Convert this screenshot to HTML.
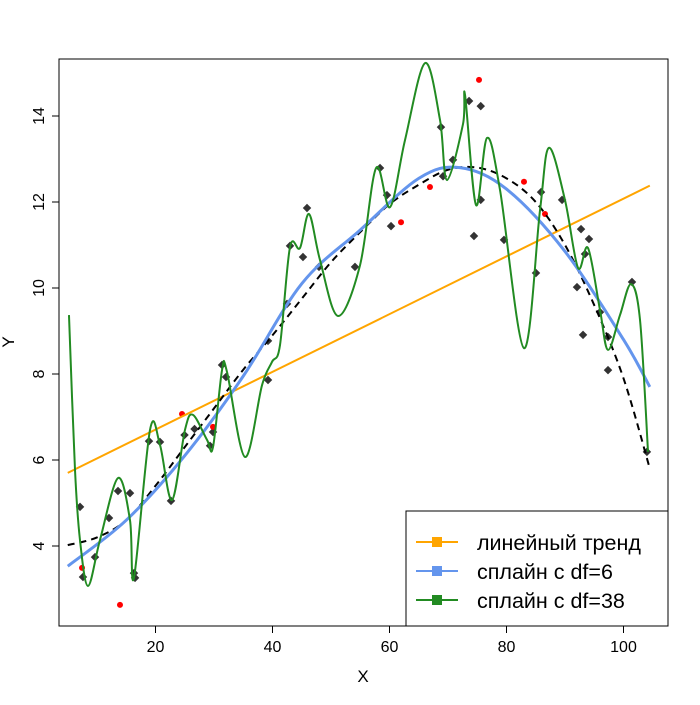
<!DOCTYPE html>
<html><head><meta charset="utf-8"><style>
body{margin:0;background:#fff}
svg text{font-family:"Liberation Sans",sans-serif;fill:#000}
</style></head><body>
<svg id="chart" width="700" height="700" xmlns="http://www.w3.org/2000/svg">
<rect width="700" height="700" fill="#fff"/>
<g id="plot"></g>
<rect x="59" y="59" width="609" height="567" fill="none" stroke="#000"/>
<g id="axes"></g>
<text x="363" y="682" font-size="17" text-anchor="middle">X</text>
<text x="14" y="342" font-size="17" text-anchor="middle" transform="rotate(-90 14 342)">Y</text>
<g>
<rect x="406" y="511" width="262" height="115" fill="#fff" stroke="#000"/>
<g><line x1="416" y1="542" x2="458" y2="542" stroke="orange" stroke-width="2"/><rect x="432" y="537" width="10" height="10" fill="orange"/><text x="477" y="550" font-size="21.5">линейный тренд</text></g>
<g><line x1="416" y1="571" x2="458" y2="571" stroke="cornflowerblue" stroke-width="2"/><rect x="432" y="566" width="10" height="10" fill="cornflowerblue"/><text x="477" y="579" font-size="21.5">сплайн с df=6</text></g>
<g><line x1="416" y1="600" x2="458" y2="600" stroke="forestgreen" stroke-width="2"/><rect x="432" y="595" width="10" height="10" fill="forestgreen"/><text x="477" y="608" font-size="21.5">сплайн с df=38</text></g>
</g>
</svg>
<script>
const xTicks=[20,40,60,80,100];
const yTicks=[4,6,8,10,12,14];
const grayX=[7.1,7.6,9.66,12.05,13.59,15.64,16.32,16.5,18.89,20.77,22.65,24.96,26.67,29.32,29.83,31.37,32.05,39.23,39.23,45.9,42.99,45.21,47.95,42.48,54.1,58.38,59.57,60.26,68.8,70.85,69.15,73.6,75.6,74.44,75.6,79.57,85.04,85.9,89.5,92.74,94.1,93.42,92.05,93.08,95.98,97.35,97.35,101.45,104];
const grayY=[4.91,3.28,3.74,4.65,5.28,5.23,3.37,3.26,6.44,6.42,5.05,6.58,6.72,6.33,6.65,8.21,7.93,8.77,7.86,11.86,10.98,10.72,10.49,9.63,10.49,12.79,12.16,11.44,13.74,12.98,12.6,14.35,14.23,11.21,12.05,11.12,10.35,12.23,12.05,11.37,11.14,10.79,10.02,8.91,9.44,8.86,8.09,10.14,6.19];
const redX=[7.44,13.93,24.53,29.83,61.97,66.92,75.3,82.99,86.58];
const redY=[3.49,2.63,7.07,6.77,11.53,12.35,14.84,12.47,11.72];
const linX=[5,104.5];
const linY=[5.7,12.38];
const df6X=[5,15,25,35,45,55,65,72,80,90,100,104.5];
const df6Y=[3.53,4.6,6.1,7.95,10.1,11.35,12.55,12.8,12.3,10.85,8.8,7.7];
const trueX=[5,10,15,20,25,30,35,40,45,50,55,60,65,70,75,80,85,90,95,100,104.5];
const trueY=[4.02,4.2,4.6,5.4,6.3,7.2,8.1,8.9,9.75,10.6,11.3,11.95,12.4,12.75,12.8,12.55,12.0,11.0,9.6,7.9,5.8];
const df38X=[5.21,6.24,7.09,8.46,10.51,13.59,15.64,16.32,19.06,20.77,22.82,25.04,26.41,28.8,29.83,31.37,32.22,35.3,38.21,39.91,41.28,42.99,44.7,46.24,48.12,51.2,54.96,57.7,60.09,62.65,66.07,68.63,69.83,72.56,72.91,74.79,76.67,78.89,82.99,85.73,87.26,89.99,92.22,93.93,95.98,97.35,99.4,101.28,102.82,104.19];
const df38Y=[9.37,5.77,4.14,3.07,4.14,5.58,4.6,3.26,6.7,6.35,5.07,6.7,7.05,6.47,6.3,8.09,8.05,6.07,7.74,8.28,8.67,10.95,10.93,11.72,10.65,9.35,10.53,12.79,11.88,13.44,15.23,13.91,12.51,13.81,14.49,11.93,13.49,12.28,8.6,11.81,13.26,12.05,10.47,10.93,9.49,8.56,9.37,10.09,9.26,6.19];

const NS='http://www.w3.org/2000/svg';
const sx=v=>38.5+5.85*v;
const sy=v=>718-43*v;
const plot=document.getElementById('plot'), axes=document.getElementById('axes');
function mk(tag,attrs,parent){const e=document.createElementNS(NS,tag);for(const k in attrs)e.setAttribute(k,attrs[k]);parent.appendChild(e);return e;}
function smooth(xs,ys){const p=xs.map((x,i)=>[sx(x),sy(ys[i])]);let d='M'+p[0][0]+','+p[0][1];
for(let i=0;i<p.length-1;i++){const a=p[Math.max(i-1,0)],b=p[i],c=p[i+1],e=p[Math.min(i+2,p.length-1)];
const c1=[b[0]+(c[0]-a[0])/6,b[1]+(c[1]-a[1])/6],c2=[c[0]-(e[0]-b[0])/6,c[1]-(e[1]-b[1])/6];
d+=' C'+c1[0]+','+c1[1]+' '+c2[0]+','+c2[1]+' '+c[0]+','+c[1];}return d;}
mk('line',{x1:sx(xTicks[0]),y1:626,x2:sx(xTicks[xTicks.length-1]),y2:626,stroke:'#000'},axes);
xTicks.forEach(t=>{mk('line',{x1:sx(t),y1:626,x2:sx(t),y2:633,stroke:'#000'},axes);
const tx=mk('text',{x:sx(t),y:652,'font-size':16,'text-anchor':'middle'},axes);tx.textContent=t;

});
yTicks.forEach(t=>{mk('line',{x1:52,y1:sy(t),x2:59,y2:sy(t),stroke:'#000'},axes);
const tx=mk('text',{x:44,y:sy(t),'font-size':16,'text-anchor':'middle',transform:`rotate(-90 44 ${sy(t)})`},axes);tx.textContent=t;

});
grayX.forEach((x,i)=>{const r=mk('rect',{x:sx(x)-3,y:sy(grayY[i])-3,width:6,height:6,fill:'#333',transform:`rotate(45 ${sx(x)} ${sy(grayY[i])})`},plot);

});
redX.forEach((x,i)=>{const c=mk('circle',{cx:sx(x),cy:sy(redY[i]),r:3,fill:'red'},plot);

});
const l=mk('line',{x1:sx(linX[0]),y1:sy(linY[0]),x2:sx(linX[1]),y2:sy(linY[1]),stroke:'orange','stroke-width':2},plot);


const t=mk('path',{d:smooth(trueX,trueY),fill:'none',stroke:'#000','stroke-width':2,'stroke-dasharray':'7,5'},plot);


const b=mk('path',{d:smooth(df6X,df6Y),fill:'none',stroke:'cornflowerblue','stroke-width':3},plot);


const g=mk('path',{d:smooth(df38X,df38Y),fill:'none',stroke:'forestgreen','stroke-width':2},plot);


</script>
</body></html>
